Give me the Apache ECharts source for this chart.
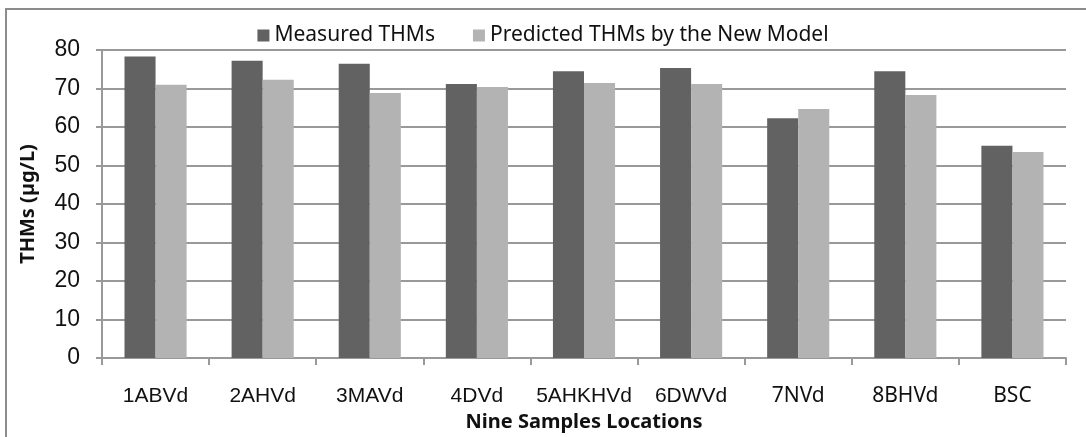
<!DOCTYPE html>
<html>
<head>
<meta charset="utf-8">
<script src="https://cdn.jsdelivr.net/npm/echarts@6/dist/echarts.min.js"></script>
<style>
  html, body { margin: 0; padding: 0; background: #fff; }
  #chart { width: 1086px; height: 437px; }
</style>
</head>
<body>
<div id="chart"></div>
<script>
// 采样点
const locations = ["1ABVd", "2AHVd", "3MAVd", "4DVd", "5AHKHVd", "6DWVd", "7NVd", "8BHVd", "BSC"];
const measured = [78.3, 77.2, 76.4, 71.2, 74.5, 75.3, 62.3, 74.5, 55.1];
const predicted = [71.0, 72.3, 68.8, 70.4, 71.4, 71.2, 64.7, 68.3, 53.5];
const yTicks = [0, 10, 20, 30, 40, 50, 60, 70, 80];

const chart = echarts.init(document.getElementById("chart"));

// labels 1-6 look like Arial, the last three like Calibri
const sansLabels = ["7NVd", "8BHVd", "BSC"];

chart.setOption({
  animation: false,
  textStyle: { fontFamily: "Liberation Sans" },
  graphic: [
    {
      type: "rect",
      shape: { x: 6, y: 9, width: 1100, height: 440 },
      style: { fill: "none", stroke: "#8c8c8c", lineWidth: 2 },
      silent: true,
    },
  ],
  legend: {
    top: 20,
    left: "center",
    itemWidth: 12,
    itemHeight: 12,
    itemGap: 38,
    icon: "rect",
    textStyle: { fontFamily: "Noto Sans", fontSize: 21, color: "#111" },
    data: ["Measured THMs", "Predicted THMs by the New Model"],
  },
  grid: { left: 102, right: 20, top: 50, bottom: 79 },
  xAxis: {
    type: "category",
    data: locations.map((n) =>
      sansLabels.includes(n) ? { value: n, textStyle: { fontFamily: "Noto Sans", fontSize: 21 } } : n
    ),
    name: "Nine Samples Locations",
    nameLocation: "middle",
    nameGap: 49,
    nameTextStyle: { fontFamily: "Noto Sans", fontWeight: "bold", fontSize: 20, color: "#111" },
    axisLine: { lineStyle: { color: "#999", width: 2 } },
    axisTick: { show: true, length: 7, lineStyle: { color: "#999", width: 2 } },
    axisLabel: { interval: 0, margin: 28, fontSize: 21, color: "#111" },
  },
  yAxis: {
    type: "value",
    min: 0,
    max: 80,
    interval: 10,
    name: "THMs (µg/L)",
    nameLocation: "middle",
    nameGap: 64,
    nameTextStyle: { fontFamily: "Noto Sans", fontWeight: "bold", fontSize: 20, color: "#111" },
    axisLine: { show: true, lineStyle: { color: "#999", width: 2 } },
    axisTick: { show: true, length: 6, lineStyle: { color: "#999", width: 2 } },
    axisLabel: {
      margin: 22,
      fontSize: 23,
      color: "#111",
      formatter: (v) => (yTicks.includes(v) ? String(v) : ""),
    },
    splitLine: { lineStyle: { color: "#999", width: 2 } },
  },
  series: [
    {
      name: "Measured THMs",
      type: "bar",
      data: measured,
      barGap: "0%",
      barCategoryGap: "42%",
      itemStyle: { color: "#626262" },
    },
    {
      name: "Predicted THMs by the New Model",
      type: "bar",
      data: predicted,
      itemStyle: { color: "#b3b3b3" },
    },
  ],
});
</script>
</body>
</html>
